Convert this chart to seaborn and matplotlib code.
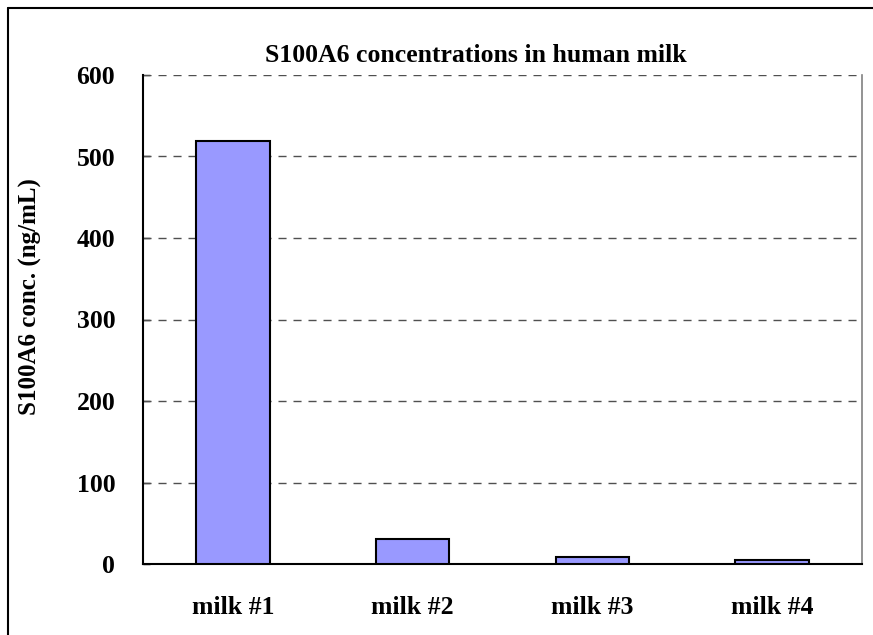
import seaborn as sns
import matplotlib.pyplot as plt
import matplotlib.lines as mlines
from matplotlib.ticker import FixedLocator
import pandas as pd

# data
samples = ["milk #1", "milk #2", "milk #3", "milk #4"]
conc = [519, 31, 9, 4.5]
y_ticks = [0, 100, 200, 300, 400, 500, 600]

df = pd.DataFrame({"sample": samples, "conc": conc})

sns.set_theme(style="white")
plt.rcParams['font.family'] = ['Liberation Serif', 'DejaVu Serif']
plt.rcParams['font.weight'] = 'bold'
plt.rcParams['text.color'] = 'black'
plt.rcParams['xtick.color'] = 'black'
plt.rcParams['ytick.color'] = 'black'

fig = plt.figure(figsize=(8.73, 6.35), dpi=100)
ax = fig.add_axes([143 / 873, 1 - 564 / 635, (862 - 143) / 873, (564 - 75) / 635])

sns.barplot(data=df, x="sample", y="conc", color="#9999FF", edgecolor="black",
            linewidth=1.5, width=0.41, saturation=1, ax=ax, zorder=3)

ax.set_ylim(0, 600)
ax.set_xlim(-0.5, len(samples) - 0.5)
ax.set_yticks(y_ticks)
ax.set_yticklabels([str(t) for t in y_ticks], fontsize=18.5, fontweight='bold')
ax.set_xticks(range(len(samples)))
ax.set_xticklabels(samples, fontsize=18.5, fontweight='bold')
ax.set_xlabel("")
ax.set_ylabel("")

# dashed gridlines like the Excel original
for t in y_ticks[1:]:
    ax.axhline(t, color="#505050", lw=1.0, ls=(0, (5.8, 5)), zorder=1)

# category separators as small inward ticks
ax.xaxis.set_minor_locator(FixedLocator([0.5, 1.5, 2.5]))
ax.tick_params(axis='x', which='major', length=0, pad=23)
ax.tick_params(axis='x', which='minor', direction='in', length=8, width=1, color='black')
ax.tick_params(axis='y', direction='in', length=5, width=1, color='black', pad=20, left=True)

ax.spines['top'].set_visible(False)
ax.spines['right'].set_color('#808080')
ax.spines['right'].set_linewidth(1.2)
for s in ['left', 'bottom']:
    ax.spines[s].set_color('black')
    ax.spines[s].set_linewidth(1.5)

fig.text(30 / 873, 1 - 297 / 635, "S100A6 conc. (ng/mL)", rotation=90,
         ha='center', va='center', fontsize=18, fontweight='bold')
fig.text(476 / 873, 1 - 56 / 635, "S100A6 concentrations in human milk",
         ha='center', va='center', fontsize=18.5, fontweight='bold')

# outer chart frame (top and left edges visible)
fig.add_artist(mlines.Line2D([8 / 873, 1.0], [1 - 8 / 635, 1 - 8 / 635],
                             transform=fig.transFigure, color='black', lw=1.5))
fig.add_artist(mlines.Line2D([8 / 873, 8 / 873], [0.0, 1 - 8 / 635],
                             transform=fig.transFigure, color='black', lw=1.5))

fig.savefig("out.png", dpi=100)
